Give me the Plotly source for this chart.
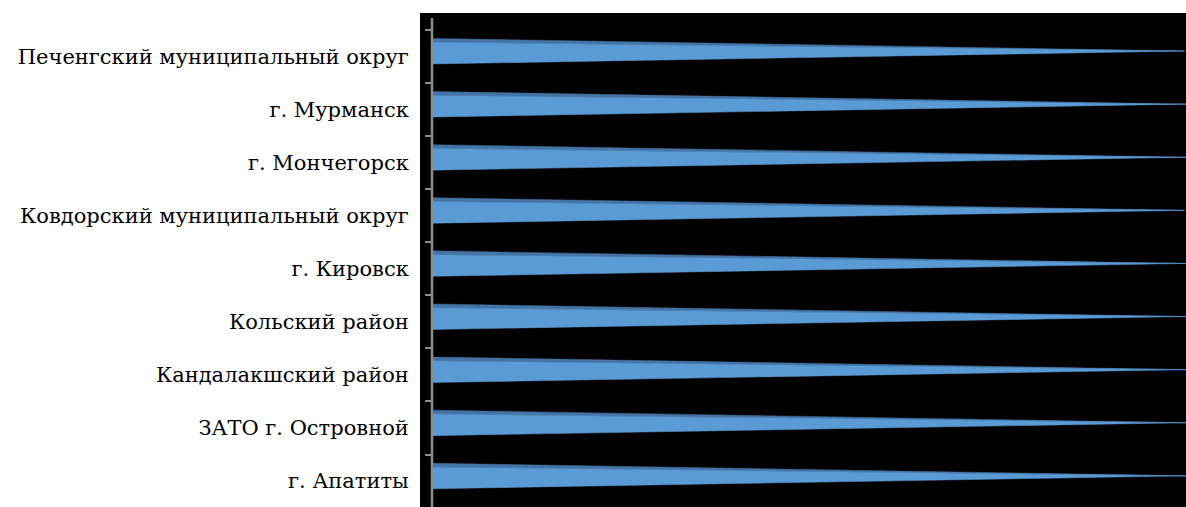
import plotly.graph_objects as go

# ---- data ----
categories = [
    "Печенгский муниципальный округ",
    "г. Мурманск",
    "г. Мончегорск",
    "Ковдорский муниципальный округ",
    "г. Кировск",
    "Кольский район",
    "Кандалакшский район",
    "ЗАТО г. Островной",
    "г. Апатиты",
]
values = [99.8, 100.0, 100.0, 99.8, 100.0, 100.0, 100.0, 100.0, 100.0]

# ---- pyramid-bar geometry (offsets in category units) ----
TOP_EDGE = -0.335   # top of the darker top face at the base
FRONT_TOP = -0.262  # top of the lighter front face at the base
FRONT_BOT = 0.145   # bottom of the front face at the base
APEX = -0.098       # vertical position of the apex

front_x, front_y, top_x, top_y = [], [], [], []
for i, v in enumerate(values):
    front_x += [0, 0, v, 0, None]
    front_y += [i + FRONT_TOP, i + FRONT_BOT, i + APEX, i + FRONT_TOP, None]
    top_x += [0, 0, v, 0, None]
    top_y += [i + TOP_EDGE, i + FRONT_TOP, i + APEX, i + TOP_EDGE, None]

fig = go.Figure()
fig.add_trace(go.Scatter(
    x=top_x, y=top_y, fill="toself", mode="lines",
    fillcolor="rgb(68,116,166)", line=dict(color="rgb(68,116,166)", width=0.5),
    hoverinfo="skip", showlegend=False,
))
fig.add_trace(go.Scatter(
    x=front_x, y=front_y, fill="toself", mode="lines",
    fillcolor="rgb(91,155,213)", line=dict(color="rgb(91,155,213)", width=0.5),
    hoverinfo="skip", showlegend=False,
))
# invisible trace to carry the category label axis
fig.add_trace(go.Scatter(
    x=[0] * len(categories), y=list(range(len(categories))), yaxis="y2",
    mode="markers", marker=dict(opacity=0), hoverinfo="skip", showlegend=False,
))

W, H = 1186, 507
L, T = 420, 13
plot_w = W - L
x0_px = 432 - L
xmax = 100.0
xmin = -x0_px / (plot_w - x0_px) * xmax

band = 53.1
first_top = 29.7
y_top = (T - first_top) / band - 0.5
y_bot = (H - first_top) / band - 0.5
yrange = [y_bot, y_top]
axis_start = (18 - first_top) / band - 0.5

boundaries = [i - 0.5 for i in range(len(categories))]

fig.update_layout(
    width=W, height=H,
    margin=dict(l=L, r=0, t=T, b=0, pad=0),
    paper_bgcolor="white",
    plot_bgcolor="black",
    xaxis=dict(range=[xmin, xmax], showticklabels=False, showgrid=False,
               zeroline=False, showline=False, ticks=""),
    yaxis=dict(range=yrange, tickvals=boundaries, ticktext=[""] * len(boundaries),
               ticks="outside", ticklen=7, tickcolor="#8c8c8c", tickwidth=1.5,
               showline=False,
               anchor="free", position=x0_px / plot_w,
               showgrid=False, zeroline=False, showticklabels=False),
    yaxis2=dict(range=yrange, overlaying="y", side="left", anchor="x",
                tickvals=list(range(len(categories))), ticktext=categories,
                ticks="outside", ticklen=6, tickcolor="rgba(0,0,0,0)",
                showline=False, showgrid=False, zeroline=False,
                tickfont=dict(family="DejaVu Serif", size=21, color="black")),
    font=dict(family="DejaVu Serif", size=21, color="black"),
    shapes=[dict(type="line", xref="x", yref="y", x0=0, x1=0,
                 y0=axis_start, y1=y_bot,
                 line=dict(color="#8c8c8c", width=2.5), layer="above")],
)

fig.write_html("out.html", config={"displayModeBar": False},
               post_script="document.body.style.margin='0';")
